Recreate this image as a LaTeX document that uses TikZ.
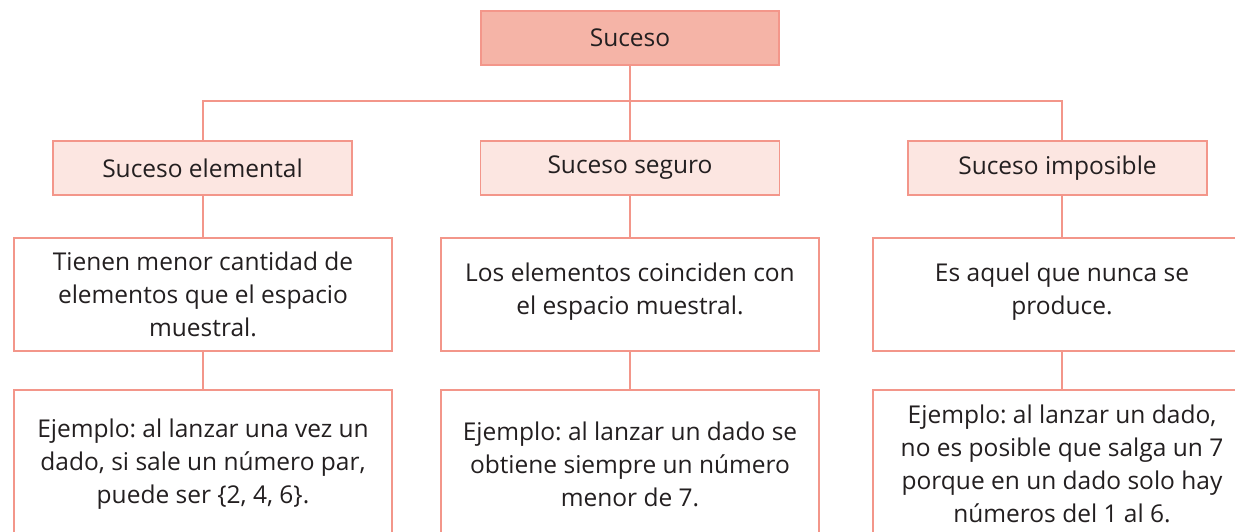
\documentclass[tikz,border=0pt]{standalone}
\usepackage{fontspec}
\setmainfont{Open Sans}
\frenchspacing
\definecolor{lnc}{HTML}{F3968A}
\definecolor{topfill}{HTML}{F5B4A7}
\definecolor{subfill}{HTML}{FCE6E1}
\definecolor{txt}{HTML}{231F20}
\tikzset{
  basebox/.style={draw=lnc, line width=1.2pt, inner sep=0pt, align=center, text=txt,
    font=\fontsize{24.5}{33}\selectfont\frenchspacing},
  topbox/.style={basebox, fill=topfill, minimum width=298pt, minimum height=54pt},
  catbox/.style={basebox, fill=subfill, minimum width=299pt, minimum height=54pt},
  descbox/.style={basebox, fill=white, minimum width=378pt, minimum height=113pt},
  exbox/.style={basebox, fill=white, minimum width=378pt, minimum height=148pt},
  conn/.style={draw=lnc, line width=2.2pt}
}
\begin{document}
\begin{tikzpicture}[x=1pt,y=-1pt]
\useasboundingbox (0,0) rectangle (1235,531);
\clip (0,0) rectangle (1235,531);
\node[topbox] (top) at (630,38) {Suceso};
\node[catbox] (c1) at (202.5,168) {Suceso elemental};
\node[catbox] (c2) at (630,168) {Suceso seguro};
\node[catbox] (c3) at (1057.5,168) {Suceso imposible};
\node[descbox] (d1) at (203,294.5) {Tienen menor cantidad de\\elementos que el espacio\\muestral.};
\node[descbox] (d2) at (630,294.5) {Los elementos coinciden con\\el espacio muestral.\\[-21pt]\mbox{}};
\node[descbox] (d3) at (1062,294.5) {Es aquel que nunca se\\produce.\\[-21pt]\mbox{}};
\node[exbox] (e1) at (203,464) {Ejemplo: al lanzar una vez un\\dado, si sale un número par,\\puede ser \{2, 4, 6\}.};
\node[exbox] (e2) at (630,464) {Ejemplo: al lanzar un dado se\\obtiene siempre un número\\menor de 7.};
\node[exbox] (e3) at (1062,464) {Ejemplo: al lanzar un dado,\\no es posible que salga un 7\\porque en un dado solo hay\\números del 1 al 6.};
\coordinate (bar) at (630,101);
\draw[conn] (top.south) -- (c2.north);
\draw[conn] (d1.north |- c1.north) -- (d1.north |- bar) -- (d3.north |- bar) -- (d3.north |- c3.north);
\draw[conn] (d1.north |- c1.south) -- (d1.north);
\draw[conn] (c2.south) -- (d2.north);
\draw[conn] (d3.north |- c3.south) -- (d3.north);
\draw[conn] (d1.south) -- (e1.north);
\draw[conn] (d2.south) -- (e2.north);
\draw[conn] (d3.south) -- (e3.north);
\end{tikzpicture}
\end{document}
